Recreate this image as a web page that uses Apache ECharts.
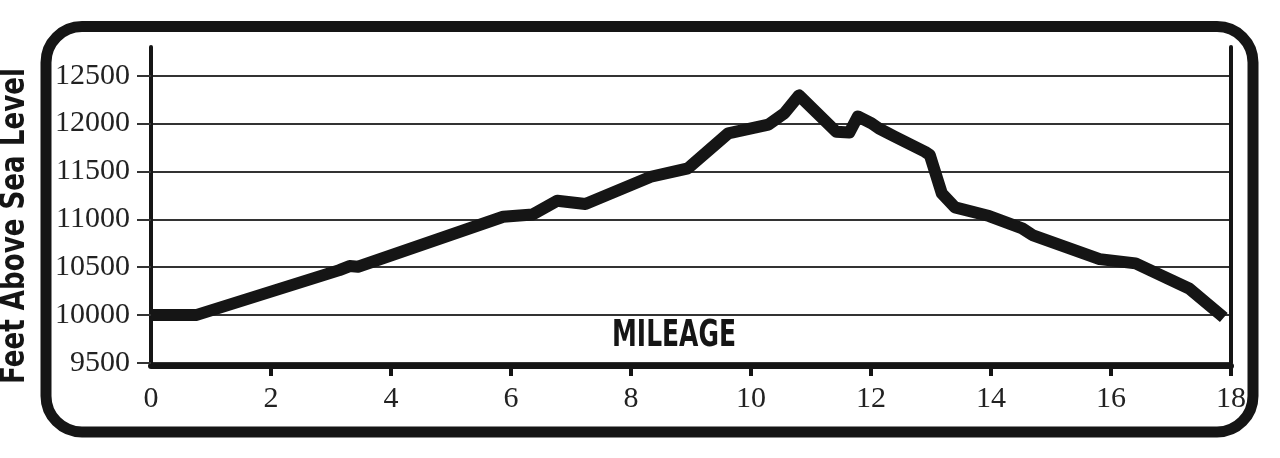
<!DOCTYPE html>
<html>
<head>
<meta charset="utf-8">
<script src="https://cdn.jsdelivr.net/npm/echarts@6/dist/echarts.min.js"></script>
<style>
html,body{margin:0;padding:0;background:#fff;}
#c{width:1280px;height:458px;}
</style>
</head>
<body>
<div id="c"></div>
<script>
const miles = [0, 0.75, 3.14, 3.31, 3.45, 5.87, 6.36, 6.77, 7.24, 8.33, 8.95, 9.62, 10.29, 10.56, 10.8, 11.42, 11.64, 11.78, 12.01, 12.13, 12.4, 12.9, 12.98, 13.18, 13.4, 13.97, 14.52, 14.69, 15.81, 16.41, 17.31, 17.88];
const elevation = [10000, 10000, 10470, 10512, 10505, 11027, 11050, 11194, 11160, 11445, 11533, 11898, 11990, 12110, 12295, 11915, 11908, 12075, 12002, 11950, 11863, 11706, 11672, 11271, 11125, 11035, 10906, 10836, 10585, 10540, 10275, 9975];
const yTicks = [9500, 10000, 10500, 11000, 11500, 12000, 12500];
const xLabels = [0, 2, 4, 6, 8, 10, 12, 14, 16, 18];
const xTickMarks = [2, 4, 6, 8, 10, 12, 14, 16, 18];
const yTitle = 'Feet Above Sea Level';
const xTitle = 'MILEAGE';

const chart = echarts.init(document.getElementById('c'));
const ink = '#151515';
const serif = '"Liberation Serif", "DejaVu Serif", serif';
const condensed = '"Liberation Sans Narrow", "DejaVu Sans Condensed", "Roboto", sans-serif';

chart.setOption({
  animation: false,
  backgroundColor: '#fff',
  grid: { left: 151, right: 49, top: 47, bottom: 95, containLabel: false },
  xAxis: {
    type: 'value', min: 0, max: 18, interval: 2, offset: 3,
    axisLine: { show: true, lineStyle: { color: ink, width: 6 } },
    axisTick: { show: true, length: 10, customValues: xTickMarks, lineStyle: { color: ink, width: 4 } },
    axisLabel: { customValues: xLabels, margin: 18, fontFamily: serif, fontSize: 30, color: '#222', formatter: v => String(v) },
    splitLine: { show: false }
  },
  yAxis: [{
    type: 'value', min: 9500, max: 12800, interval: 500,
    axisLine: { show: true, lineStyle: { color: ink, width: 4 } },
    axisTick: { show: true, length: 14, customValues: yTicks, lineStyle: { color: '#333', width: 2 } },
    axisLabel: { customValues: yTicks, margin: 21, fontFamily: serif, fontSize: 30, color: '#222', formatter: v => String(v) },
    splitLine: { show: true, lineStyle: { color: '#333', width: 2 } }
  }, {
    type: 'value', min: 9500, max: 12800, position: 'right',
    axisLine: { show: true, onZero: false, lineStyle: { color: ink, width: 4 } },
    axisTick: { show: false }, axisLabel: { show: false }, splitLine: { show: false }
  }],
  series: [{
    type: 'line',
    data: miles.map((m, i) => [m, elevation[i]]),
    showSymbol: false,
    symbol: 'none',
    lineStyle: { color: ink, width: 12, join: 'round', cap: 'butt' },
    z: 5
  }],
  graphic: [
    {
      type: 'rect', silent: true, z: 100,
      shape: { x: 46, y: 26.5, width: 1207, height: 405.5, r: 36 },
      style: { fill: 'none', stroke: ink, lineWidth: 11 }
    },
    {
      type: 'text', x: 15, y: 226, rotation: Math.PI / 2, scaleX: 0.88, z: 100,
      style: { text: yTitle, fontFamily: condensed, fontWeight: 'bold', fontSize: 33, fill: ink, align: 'center', verticalAlign: 'middle' }
    },
    {
      type: 'text', x: 674, y: 336, scaleX: 0.75, z: 100,
      style: { text: xTitle, fontFamily: condensed, fontWeight: 'bold', fontSize: 37, fill: ink, align: 'center', verticalAlign: 'middle' }
    }
  ]
});
</script>
</body>
</html>
